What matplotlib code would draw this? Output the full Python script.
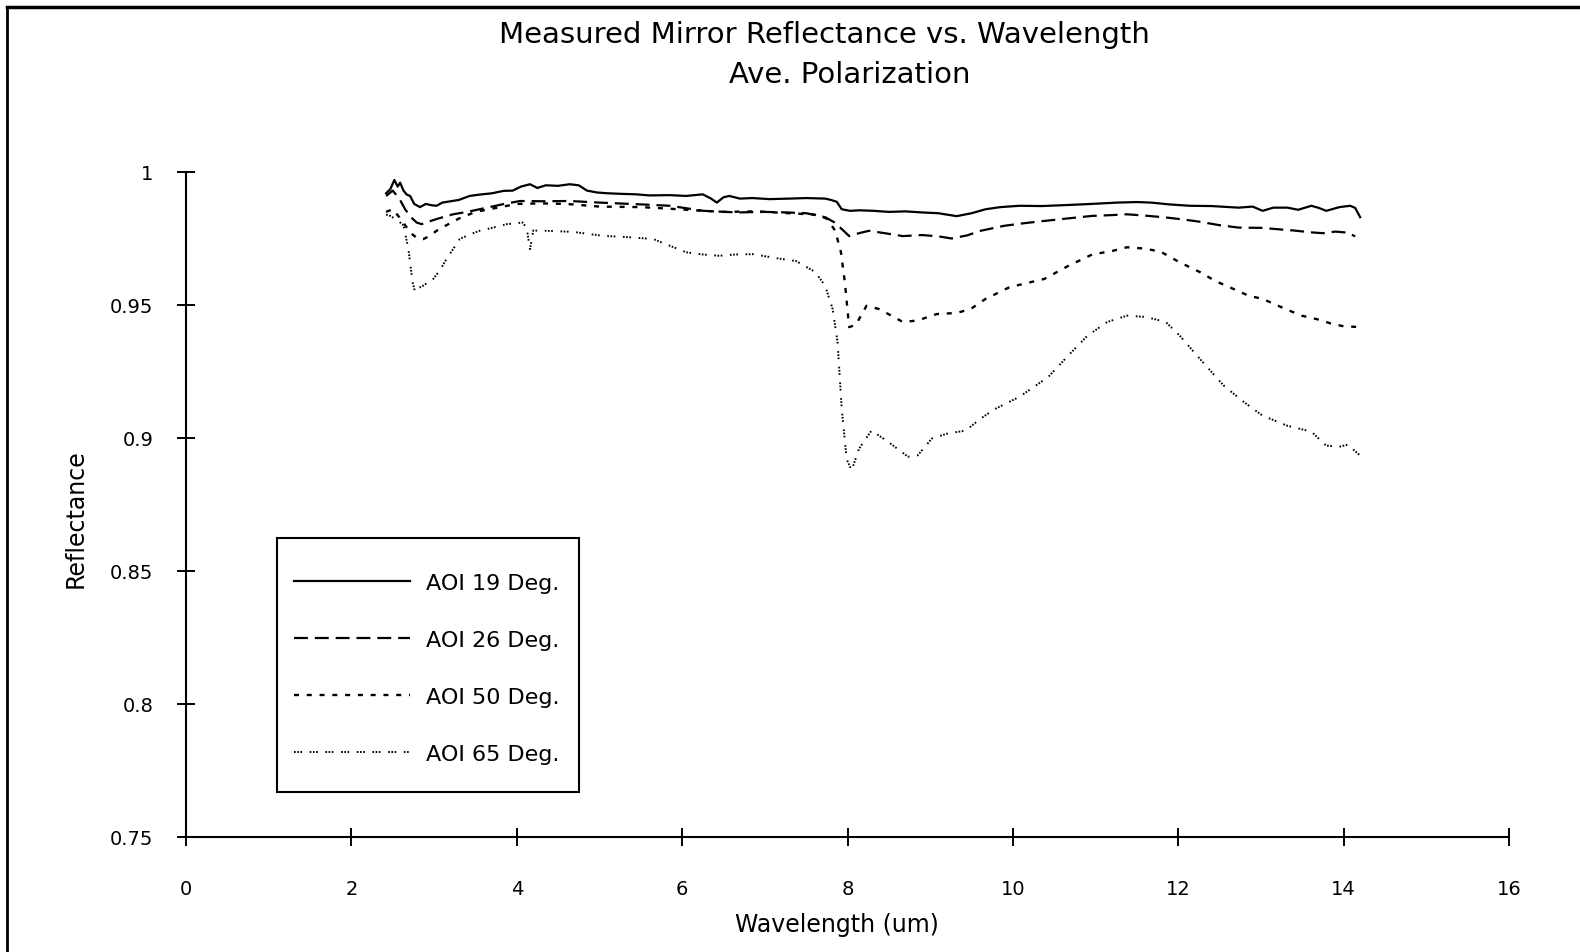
import matplotlib
matplotlib.use("Agg")
import matplotlib.pyplot as plt
from matplotlib.lines import Line2D
from matplotlib.patches import Rectangle
from matplotlib.ticker import FixedLocator, FuncFormatter

plt.rcParams['font.family'] = ['DejaVu Sans']
plt.rcParams['lines.scale_dashes'] = False

# ---------------- data ----------------
x19 = [2.42, 2.47, 2.52, 2.56, 2.59, 2.63, 2.67, 2.71, 2.76, 2.83, 2.90, 2.97, 3.03, 3.10, 3.20,
       3.30, 3.43, 3.55, 3.70, 3.84, 3.95, 4.05, 4.16, 4.25, 4.35, 4.50, 4.64, 4.75, 4.85, 4.97,
       5.10, 5.25, 5.45, 5.60, 5.85, 6.05, 6.25, 6.35, 6.42, 6.50, 6.57, 6.70, 6.85, 7.06, 7.30,
       7.50, 7.73, 7.80, 7.87, 7.93, 8.03, 8.15, 8.32, 8.50, 8.70, 8.90, 9.10, 9.32, 9.50, 9.67,
       9.85, 10.08, 10.35, 10.67, 10.95, 11.26, 11.50, 11.67, 11.90, 12.14, 12.40, 12.73, 12.90,
       13.02, 13.15, 13.32, 13.45, 13.61, 13.70, 13.79, 13.95, 14.08, 14.14, 14.20]
y19 = [0.9920, 0.9935, 0.9970, 0.9945, 0.9960, 0.9930, 0.9915, 0.9910, 0.9880, 0.9868, 0.9880,
       0.9875, 0.9873, 0.9885, 0.9890, 0.9895, 0.9910, 0.9915, 0.9920, 0.9929, 0.9930, 0.9945,
       0.9954, 0.9940, 0.9950, 0.9948, 0.9954, 0.9950, 0.9930, 0.9923, 0.9920, 0.9918, 0.9916,
       0.9912, 0.9913, 0.9910, 0.9916, 0.9900, 0.9885, 0.9905, 0.9910, 0.9900, 0.9902, 0.9898,
       0.9900, 0.9902, 0.9900, 0.9895, 0.9888, 0.9860, 0.9854, 0.9856, 0.9854, 0.9850, 0.9852,
       0.9848, 0.9845, 0.9834, 0.9845, 0.9860, 0.9868, 0.9873, 0.9872, 0.9876, 0.9880, 0.9885,
       0.9887, 0.9885, 0.9878, 0.9873, 0.9872, 0.9866, 0.9870, 0.9854, 0.9866, 0.9866, 0.9858,
       0.9873, 0.9865, 0.9854, 0.9868, 0.9873, 0.9865, 0.9830]

x26 = [2.42, 2.50, 2.58, 2.65, 2.72, 2.79, 2.85, 2.95, 3.05, 3.23, 3.40, 3.64, 3.85, 4.04, 4.30,
       4.64, 5.00, 5.45, 5.85, 6.26, 6.66, 7.00, 7.26, 7.50, 7.66, 7.73, 7.84, 7.95, 8.02, 8.14,
       8.26, 8.45, 8.67, 8.90, 9.10, 9.26, 9.45, 9.61, 9.90, 10.15, 10.38, 10.65, 10.96, 11.20,
       11.38, 11.60, 11.85, 12.05, 12.26, 12.50, 12.73, 13.00, 13.20, 13.40, 13.61, 13.75, 13.90,
       14.05, 14.14]
y26 = [0.9910, 0.9930, 0.9900, 0.9860, 0.9830, 0.9810, 0.9804, 0.9815, 0.9825, 0.9841, 0.9850,
       0.9866, 0.9880, 0.9891, 0.9890, 0.9891, 0.9885, 0.9879, 0.9873, 0.9854, 0.9848, 0.9850,
       0.9848, 0.9845, 0.9835, 0.9830, 0.9811, 0.9780, 0.9759, 0.9770, 0.9779, 0.9770, 0.9759,
       0.9763, 0.9758, 0.9750, 0.9762, 0.9779, 0.9798, 0.9808, 0.9816, 0.9825, 0.9835, 0.9838,
       0.9841, 0.9836, 0.9829, 0.9822, 0.9813, 0.9800, 0.9791, 0.9790, 0.9785, 0.9780, 0.9773,
       0.9770, 0.9776, 0.9772, 0.9758]

x50 = [2.42, 2.50, 2.58, 2.65, 2.72, 2.80, 2.87, 2.95, 3.03, 3.15, 3.30, 3.50, 3.75, 4.00, 4.30,
       4.60, 5.00, 5.50, 5.85, 6.20, 6.50, 6.90, 7.30, 7.60, 7.75, 7.85, 7.92, 7.97, 8.02, 8.10,
       8.23, 8.38, 8.50, 8.67, 8.85, 9.08, 9.32, 9.49, 9.67, 9.96, 10.38, 10.67, 10.96, 11.20,
       11.38, 11.60, 11.79, 12.02, 12.26, 12.45, 12.67, 12.85, 13.02, 13.26, 13.49, 13.70, 13.85,
       14.00, 14.20]
y50 = [0.9850, 0.9860, 0.9830, 0.9800, 0.9770, 0.9750, 0.9748, 0.9760, 0.9779, 0.9800, 0.9825,
       0.9850, 0.9865, 0.9880, 0.9882, 0.9880, 0.9870, 0.9868, 0.9862, 0.9855, 0.9850, 0.9852,
       0.9845, 0.9840, 0.9825, 0.9780, 0.9700, 0.9580, 0.9417, 0.9425, 0.9497, 0.9485, 0.9465,
       0.9436, 0.9442, 0.9466, 0.9470, 0.9485, 0.9523, 0.9567, 0.9598, 0.9647, 0.9690, 0.9703,
       0.9717, 0.9712, 0.9700, 0.9660, 0.9624, 0.9590, 0.9560, 0.9535, 0.9523, 0.9490, 0.9460,
       0.9445, 0.9430, 0.9420, 0.9417]

x65 = [2.42, 2.47, 2.55, 2.63, 2.69, 2.72, 2.74, 2.77, 2.82, 2.87, 2.93, 2.99, 3.07, 3.15, 3.23,
       3.31, 3.43, 3.55, 3.70, 3.88, 4.07, 4.12, 4.16, 4.20, 4.36, 4.68, 5.04, 5.35, 5.65, 5.85,
       6.05, 6.25, 6.45, 6.65, 6.86, 7.14, 7.38, 7.61, 7.73, 7.82, 7.88, 7.93, 7.99, 8.05, 8.14,
       8.29, 8.49, 8.73, 8.85, 9.02, 9.20, 9.43, 9.61, 9.79, 10.08, 10.43, 10.67, 10.90, 11.14,
       11.38, 11.61, 11.85, 12.02, 12.26, 12.55, 12.79, 13.02, 13.32, 13.61, 13.79, 13.96, 14.05,
       14.20]
y65 = [0.9840, 0.9835, 0.9820, 0.9800, 0.9710, 0.9635, 0.9586, 0.9550, 0.9565, 0.9573, 0.9585,
       0.9598, 0.9630, 0.9673, 0.9710, 0.9748, 0.9765, 0.9779, 0.9790, 0.9804, 0.9810, 0.9790,
       0.9710, 0.9780, 0.9779, 0.9775, 0.9760, 0.9755, 0.9748, 0.9723, 0.9698, 0.9690, 0.9685,
       0.9690, 0.9691, 0.9676, 0.9665, 0.9624, 0.9572, 0.9485, 0.9360, 0.9110, 0.8920, 0.8878,
       0.8960, 0.9028, 0.8986, 0.8930, 0.8935, 0.8998, 0.9016, 0.9028, 0.9073, 0.9110, 0.9155,
       0.9230, 0.9310, 0.9384, 0.9436, 0.9460, 0.9455, 0.9436, 0.9384, 0.9298, 0.9197, 0.9136,
       0.9084, 0.9046, 0.9024, 0.8971, 0.8968, 0.8975, 0.8934]

labels = ["AOI 19 Deg.", "AOI 26 Deg.", "AOI 50 Deg.", "AOI 65 Deg."]
xticks = [0, 2, 4, 6, 8, 10, 12, 14, 16]
yticks = [0.75, 0.80, 0.85, 0.90, 0.95, 1.00]

title1 = "Measured Mirror Reflectance vs. Wavelength"
title2 = "Ave. Polarization"
xlabel = "Wavelength (um)"
ylabel = "Reflectance"

# ---------------- figure ----------------
W, H = 1580, 953
fig = plt.figure(figsize=(W / 100, H / 100), dpi=100)
fig.patch.set_facecolor("white")

left, right, top, bottom = 186, 1509, 173, 838
ax = fig.add_axes([left / W, 1 - bottom / H, (right - left) / W, (bottom - top) / H])

styles = [
    dict(linestyle="-", linewidth=1.6),
    dict(linestyle=(0, (10, 5)), linewidth=1.6),
    dict(linestyle=(0, (3.6, 5.6)), linewidth=1.7),
    dict(linestyle=(0, (1.2, 1.1, 1.2, 1.1, 1.2, 5.5)), linewidth=1.4),
]
series = [(x19, y19), (x26, y26), (x50, y50), (x65, y65)]
for (xs, ys), st, lab in zip(series, styles, labels):
    ax.plot(xs, ys, color="black", label=lab, **st)

ax.set_xlim(0, 16)
ax.set_ylim(0.75, 1.0)
for s in ["top", "right"]:
    ax.spines[s].set_visible(False)
for s in ["left", "bottom"]:
    ax.spines[s].set_linewidth(1.5)
ax.xaxis.set_major_locator(FixedLocator(xticks))
ax.yaxis.set_major_locator(FixedLocator(yticks))
ax.yaxis.set_major_formatter(FuncFormatter(lambda v, p: f"{v:g}"))
ax.tick_params(axis="both", direction="inout", length=13, width=1.4, labelsize=14)
ax.tick_params(axis="y", pad=17)
ax.tick_params(axis="x", pad=24)

# legend entries (no own frame) + box drawn as in the reference
leg = ax.legend(loc="upper left", bbox_to_anchor=(294 / W, 1 - 574 / H),
                bbox_transform=fig.transFigure, fontsize=16, frameon=False,
                handlelength=5.2, handletextpad=0.72,
                labelspacing=1.665, borderpad=0, borderaxespad=0)
fig.add_artist(Rectangle((277 / W, 1 - 793 / H), (579 - 277) / W, (793 - 539) / H,
                         transform=fig.transFigure, fill=False, edgecolor="black",
                         linewidth=1.5, zorder=3))

fig.text(824 / W, 1 - 35 / H, title1, fontsize=21, ha="center", va="center")
fig.text(850 / W, 1 - 75 / H, title2, fontsize=21, ha="center", va="center")
fig.text(837 / W, 1 - 925 / H, xlabel, fontsize=17, ha="center", va="center")
fig.text(76 / W, 1 - 519 / H, ylabel, fontsize=17, ha="center", va="center", rotation=90)

# outer frame (scanned page border: left and top edges)
fig.add_artist(Line2D([7 / W, 7 / W], [0, 1 - 8 / H], transform=fig.transFigure,
                      color="black", linewidth=2))
fig.add_artist(Line2D([7 / W, 1], [1 - 8 / H, 1 - 8 / H], transform=fig.transFigure,
                      color="black", linewidth=2.5))

fig.savefig("out.png", dpi=100, facecolor="white")
